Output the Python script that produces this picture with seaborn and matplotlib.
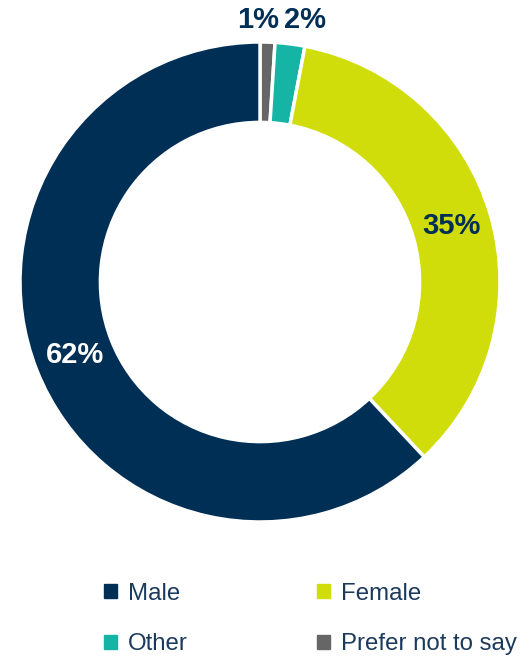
import numpy as np
import matplotlib
matplotlib.use("Agg")
import matplotlib.pyplot as plt
import matplotlib.patches as mpatches
import seaborn as sns

categories = ["Male", "Female", "Other", "Prefer not to say"]
values = [62, 35, 2, 1]
colors = ["#002F56", "#D1DC0B", "#16B4A4", "#666666"]
label_colors = ["white", "#002F56", "#002F56", "#002F56"]

sns.set_theme(style="white")
plt.rcParams["font.family"] = ["Liberation Sans", "DejaVu Sans"]

W, H = 525, 657
fig = plt.figure(figsize=(W / 100, H / 100), dpi=100)
cx, cy, r = 260, 282, 240
ax = fig.add_axes([(cx - r) / W, (H - cy - r) / H, 2 * r / W, 2 * r / H])

# draw clockwise from the top: prefer not to say, other, female, male
order = [3, 2, 1, 0]
wedges, _ = ax.pie([values[i] for i in order], colors=[colors[i] for i in order],
                   startangle=90, counterclock=False, radius=1,
                   wedgeprops=dict(width=0.335, edgecolor="white", linewidth=2.5))
ax.set_xlim(-1, 1)
ax.set_ylim(-1, 1)
ax.set_aspect("equal")
ax.axis("off")

for w, i in zip(wedges, order):
    mid = np.deg2rad((w.theta1 + w.theta2) / 2)
    txt = f"{values[i]}%"
    if values[i] >= 5:
        ax.text(0.83 * np.cos(mid), 0.83 * np.sin(mid), txt, ha="center", va="center",
                fontsize=21, fontweight="bold", color=label_colors[i])
    else:
        x = 1.09 * np.cos(mid)
        ha = "right" if i == 3 else "left"
        x = x + (0.045 if i == 3 else -0.035)
        ax.text(x, 1.09, txt, ha=ha, va="center", fontsize=21, fontweight="bold",
                color=label_colors[i], clip_on=False)

handles = [mpatches.Patch(color=colors[i], label=categories[i]) for i in [0, 2, 1, 3]]
fig.legend(handles=handles, ncol=2, loc="center left",
           bbox_to_anchor=(82 / W, 1 - 619 / H), frameon=False, fontsize=17.3,
           handlelength=0.55, handleheight=0.55, handletextpad=0.45,
           columnspacing=5.4, labelspacing=1.2, labelcolor="#1B3A5C")

fig.savefig("out.png", dpi=100)
